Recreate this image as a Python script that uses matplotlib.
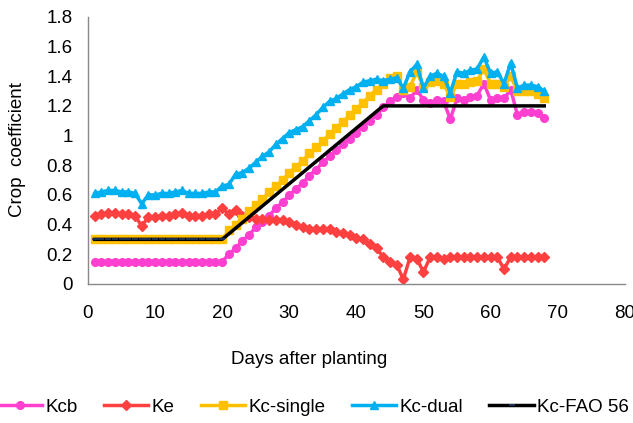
import matplotlib.pyplot as plt
import matplotlib.ticker as ticker

plt.rcParams["font.family"] = ["Liberation Sans", "DejaVu Sans"]
plt.rcParams["font.size"] = 13.5

days = list(range(1, 69))

kcb = [0.15] * 20 + [
    0.20, 0.24, 0.29, 0.33, 0.38, 0.42, 0.46, 0.51, 0.55, 0.60,
    0.64, 0.68, 0.73, 0.77, 0.82, 0.86, 0.90, 0.94, 0.98, 1.02,
    1.06, 1.10, 1.14, 1.19, 1.23, 1.26,
    1.29, 1.25, 1.31, 1.24, 1.22, 1.24, 1.23, 1.11, 1.25, 1.24,
    1.26, 1.27, 1.35, 1.24, 1.25, 1.25, 1.31, 1.14, 1.16, 1.16,
    1.15, 1.12]

ke = [
    0.46, 0.47, 0.48, 0.48, 0.47, 0.47, 0.46, 0.39, 0.45, 0.45,
    0.46, 0.46, 0.47, 0.48, 0.46, 0.46, 0.46, 0.47, 0.47, 0.51,
    0.47, 0.50, 0.46, 0.45, 0.44, 0.44, 0.43, 0.43, 0.43, 0.42,
    0.40, 0.38, 0.37, 0.37, 0.37, 0.37, 0.35, 0.34, 0.33, 0.31,
    0.30, 0.27, 0.24, 0.18, 0.15, 0.13,
    0.03, 0.18, 0.17, 0.08, 0.18, 0.18, 0.17, 0.18, 0.18, 0.18,
    0.18, 0.18, 0.18, 0.18, 0.18, 0.10, 0.18, 0.18, 0.18, 0.18,
    0.18, 0.18]

kc_single = [0.30] * 20 + [
    0.36, 0.40, 0.44, 0.49, 0.53, 0.57, 0.62, 0.66, 0.70, 0.75,
    0.79, 0.83, 0.88, 0.92, 0.96, 1.01, 1.05, 1.09, 1.14, 1.18,
    1.22, 1.27, 1.31, 1.35, 1.39, 1.40,
    1.31, 1.33, 1.43, 1.33, 1.36, 1.37, 1.35, 1.26, 1.35, 1.35,
    1.36, 1.37, 1.45, 1.35, 1.35, 1.33, 1.40, 1.30, 1.30, 1.30,
    1.28, 1.25]

kc_dual = [
    0.61, 0.62, 0.63, 0.63, 0.62, 0.62, 0.61, 0.54, 0.60, 0.60,
    0.61, 0.61, 0.62, 0.63, 0.61, 0.61, 0.61, 0.62, 0.62, 0.66,
    0.67, 0.74, 0.75, 0.78, 0.82, 0.86, 0.89, 0.94, 0.98, 1.02,
    1.04, 1.06, 1.10, 1.14, 1.19, 1.23, 1.25, 1.28, 1.31, 1.33,
    1.36, 1.37, 1.38, 1.37, 1.38, 1.39,
    1.32, 1.43, 1.48, 1.32, 1.40, 1.42, 1.40, 1.29, 1.43, 1.42,
    1.44, 1.45, 1.53, 1.42, 1.43, 1.35, 1.49, 1.32, 1.34, 1.34,
    1.33, 1.30]

fao_days = list(range(1, 21)) + [44, 68]
kc_fao = [0.30] * 20 + [1.20, 1.20]

fig = plt.figure(figsize=(6.33, 4.23), dpi=100)
ax = fig.add_axes([0.139, 0.329, 0.848, 0.631])

lw = 2.5
ms = 5.5
ax.plot(days, kcb, color="#FF3FCF", lw=lw, marker="o", ms=ms, label="Kcb")
ax.plot(days, ke, color="#FF4040", lw=lw, marker="D", ms=ms - 0.5, label="Ke")
ax.plot(days, kc_single, color="#FFC000", lw=lw, marker="s", ms=ms, label="Kc-single")
ax.plot(days, kc_dual, color="#00B0F0", lw=lw, marker="^", ms=ms + 0.5, label="Kc-dual")
ax.plot(fao_days, kc_fao, color="black", lw=lw, marker="_", ms=4,
        mec="#1F3864", mew=1.2, markevery=list(range(20)), label="Kc-FAO 56")

ax.set_xlim(0, 80)
ax.set_ylim(0, 1.8)
ax.set_xticks(range(0, 81, 10))
ax.set_yticks([i * 0.2 for i in range(10)])
ax.yaxis.set_major_formatter(ticker.FuncFormatter(lambda v, _: f"{v:g}"))
ax.tick_params(axis="both", length=0)
ax.tick_params(axis="x", pad=15)
ax.tick_params(axis="y", pad=11)
for s in ["top", "right"]:
    ax.spines[s].set_visible(False)
for s in ["left", "bottom"]:
    ax.spines[s].set_color("#898989")
    ax.spines[s].set_linewidth(1.0)

fig.text(0.488, 1 - 359 / 423, "Days after planting", ha="center", va="center")
fig.text(18 / 633, 1 - 150 / 423, "Crop  coefficient", ha="center", va="center",
         rotation=90)

fig.legend(loc="center", bbox_to_anchor=(0.495, 0.037), ncol=5, frameon=False,
           handlelength=2.35, handletextpad=0.2, columnspacing=1.4,
           borderaxespad=0, borderpad=0)

fig.savefig("out.png", dpi=100)
